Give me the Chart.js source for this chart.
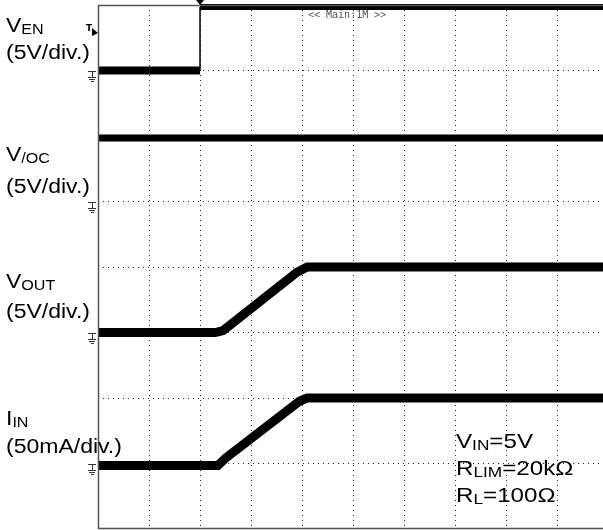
<!DOCTYPE html>
<html>
<head>
<meta charset="utf-8">
<script src="https://cdn.jsdelivr.net/npm/chart.js@4/dist/chart.umd.min.js"></script>
<style>
  html, body { margin: 0; padding: 0; background: #fff; overflow: hidden; }
  #wrap { width: 603px; height: 530px; position: relative; }
</style>
</head>
<body>
<div id="wrap"><canvas id="scope"></canvas></div>
<script>
// --------------------------------------
// Data (in scope divisions: 10 across, 8 down)
// --------------------------------------
const X_MIN = 0, X_MAX = 9.9, Y_MIN = 0, Y_MAX = 8;

const venLowX = [0, 2.0],      venLowY = [7.0, 7.0];
const venEdgeX = [2.0, 2.0],   venEdgeY = [7.0, 7.97];
const venHighX = [2.0, 9.9],   venHighY = [7.97, 7.97];
const vocX = [0, 9.9],         vocY = [5.97, 5.97];
const voutX = [0, 2.3, 2.45, 2.6, 3.9, 4.1, 9.9];
const voutY = [3.0, 3.0, 3.03, 3.12, 3.92, 4.0, 4.0];
const iinX = [0, 2.35, 2.5, 3.95, 4.1, 9.9];
const iinY = [0.97, 0.97, 1.08, 1.95, 2.0, 2.0];

const groundLevels = [7.0, 5.0, 3.0, 1.0];
const triggerLevel = 7.6;
const triggerTime = 2.0;

const chanMain  = ['V', 'V', 'V', 'I'];
const chanSub   = ['EN', '/OC', 'OUT', 'IN'];
const chanScale = ['(5V/div.)', '(5V/div.)', '(5V/div.)', '(50mA/div.)'];
const chanNameY  = [32, 161, 288, 425];
const chanScaleY = [59, 193, 318, 453];

const condMain = ['V', 'R', 'R'];
const condSub  = ['IN', 'LIM', 'L'];
const condRest = ['=5V', '=20k\u03A9', '=100\u03A9'];
const condY = [448, 475, 502];

const timebaseText = '<< Main:1M >>';

// --------------------------------------
// Helpers
// --------------------------------------
function pts(xs, ys) {
    return xs.map((x, i) => ({ x: x, y: ys[i] }));
}

function trace(xs, ys, width) {
    return {
        data: pts(xs, ys),
        showLine: true,
        borderColor: '#000',
        backgroundColor: '#000',
        borderWidth: width,
        pointRadius: 0,
        clip: 8
    };
}

const FONT = '"Liberation Sans", Arial, sans-serif';
const STRETCH = 1.15;

function drawSubText(ctx, x, y, main, sub, rest, size, subSize) {
    ctx.save();
    ctx.translate(x, y);
    ctx.scale(STRETCH, 1);
    ctx.fillStyle = '#000';
    ctx.textBaseline = 'alphabetic';
    ctx.font = size + 'px ' + FONT;
    ctx.fillText(main, 0, 0);
    let cx = ctx.measureText(main).width;
    ctx.font = subSize + 'px ' + FONT;
    ctx.fillText(sub, cx, 2);
    cx += ctx.measureText(sub).width;
    if (rest) {
        ctx.font = size + 'px ' + FONT;
        ctx.fillText(rest, cx, 0);
    }
    ctx.restore();
}

function drawPlain(ctx, x, y, text, size) {
    ctx.save();
    ctx.translate(x, y);
    ctx.scale(STRETCH, 1);
    ctx.fillStyle = '#000';
    ctx.font = size + 'px ' + FONT;
    ctx.fillText(text, 0, 0);
    ctx.restore();
}

function drawGround(ctx, x, y) {
    ctx.save();
    ctx.strokeStyle = '#333';
    ctx.lineWidth = 1;
    ctx.beginPath();
    ctx.moveTo(x - 10, y + 0.5); ctx.lineTo(x - 2, y + 0.5);
    ctx.moveTo(x - 5.5, y);      ctx.lineTo(x - 5.5, y + 6);
    ctx.moveTo(x - 10, y + 6.5); ctx.lineTo(x - 2, y + 6.5);
    ctx.moveTo(x - 9, y + 8.5);  ctx.lineTo(x - 3, y + 8.5);
    ctx.moveTo(x - 7, y + 10.5); ctx.lineTo(x - 4, y + 10.5);
    ctx.stroke();
    ctx.restore();
}

const scopeDecor = {
    id: 'scopeDecor',
    afterDraw(chart) {
        const ctx = chart.ctx;
        const a = chart.chartArea;
        const xs = chart.scales.x, ys = chart.scales.y;

        // frame
        ctx.save();
        ctx.strokeStyle = '#555';
        ctx.lineWidth = 1.5;
        ctx.beginPath();
        ctx.moveTo(a.right + 2, a.top + 0.5);
        ctx.lineTo(a.left + 0.5, a.top + 0.5);
        ctx.lineTo(a.left + 0.5, a.bottom - 0.5);
        ctx.lineTo(a.right + 2, a.bottom - 0.5);
        ctx.stroke();
        ctx.restore();

        // ground markers
        groundLevels.forEach(g => drawGround(ctx, a.left, Math.round(ys.getPixelForValue(g))));

        // trigger level marker
        const ty = Math.round(ys.getPixelForValue(triggerLevel));
        ctx.save();
        ctx.fillStyle = '#000';
        ctx.font = 'bold 9px "DejaVu Sans", sans-serif';
        ctx.fillText('T', a.left - 12, ty);
        ctx.beginPath();
        ctx.moveTo(a.left - 6, ty - 3);
        ctx.lineTo(a.left, ty + 2);
        ctx.lineTo(a.left - 6, ty + 5);
        ctx.closePath();
        ctx.fill();
        // trigger time marker
        const tx = xs.getPixelForValue(triggerTime);
        ctx.beginPath();
        ctx.moveTo(tx - 4, 0);
        ctx.lineTo(tx + 4, 0);
        ctx.lineTo(tx, 5);
        ctx.closePath();
        ctx.fill();
        // timebase text
        ctx.fillStyle = '#555';
        ctx.font = '10px "DejaVu Sans Mono", monospace';
        ctx.fillText(timebaseText, 308, 18);
        ctx.restore();

        // channel labels
        for (let i = 0; i < chanMain.length; i++) {
            drawSubText(ctx, 6, chanNameY[i], chanMain[i], chanSub[i], '', 20, 14);
            drawPlain(ctx, 6, chanScaleY[i], chanScale[i], 20);
        }
        // conditions
        for (let i = 0; i < condMain.length; i++) {
            drawSubText(ctx, 456, condY[i], condMain[i], condSub[i], condRest[i], 21, 15);
        }
    }
};

function gridColor(c) {
    const v = c.tick ? c.tick.value : 0;
    const s = c.scale;
    if (Math.abs(v - s.min) < 1e-6 || Math.abs(v - s.max) < 1e-6) return 'rgba(0,0,0,0)';
    return '#222';
}

new Chart(document.getElementById('scope'), {
    type: 'scatter',
    data: {
        datasets: [
            trace(venLowX, venLowY, 8),
            trace(venEdgeX, venEdgeY, 1.5),
            trace(venHighX, venHighY, 6),
            trace(vocX, vocY, 7),
            trace(voutX, voutY, 9),
            trace(iinX, iinY, 9)
        ]
    },
    options: {
        responsive: true,
        maintainAspectRatio: false,
        animation: false,
        layout: { padding: { left: 98, top: 5, right: 0, bottom: 1 } },
        plugins: { legend: { display: false }, tooltip: { enabled: false } },
        scales: {
            x: {
                type: 'linear', min: X_MIN, max: X_MAX,
                ticks: { display: false, stepSize: 1 },
                grid: { color: gridColor, lineWidth: 1, drawTicks: false },
                border: { display: false, dash: [1, 4] }
            },
            y: {
                type: 'linear', min: Y_MIN, max: Y_MAX,
                ticks: { display: false, stepSize: 1 },
                grid: { color: gridColor, lineWidth: 1, drawTicks: false },
                border: { display: false, dash: [1, 4] }
            }
        }
    },
    plugins: [scopeDecor]
});
</script>
</body>
</html>
